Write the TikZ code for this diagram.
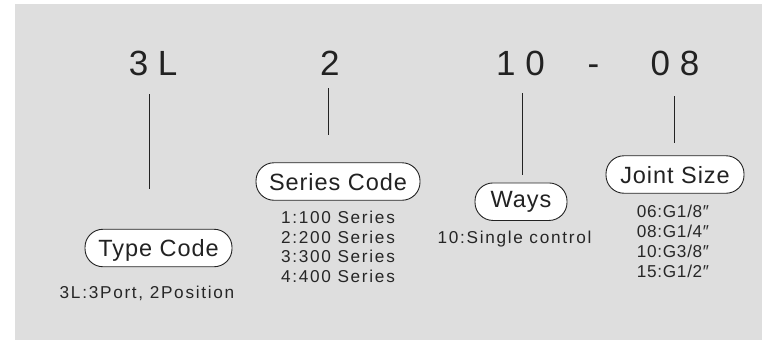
\documentclass[tikz,border=0pt]{standalone}
\usepackage{fontspec}
\setmainfont{Liberation Sans}
\newfontfamily\lblfont[LetterSpace=4]{Liberation Sans}
\newfontfamily\listfont[LetterSpace=10]{Liberation Sans}
\newfontfamily\jointfont[LetterSpace=4]{Liberation Sans}
\definecolor{bggray}{HTML}{DEDEDE}
\definecolor{ink}{HTML}{222222}
\definecolor{listink}{HTML}{262626}
\tikzset{
  digit/.style={anchor=base west, inner sep=0pt, text=ink, font=\fontsize{35}{40}\selectfont},
  pill/.style={draw=ink, line width=0.9pt, fill=white, rounded corners=18pt, inner sep=0pt,
    text height=17pt, text depth=0pt, minimum height=37.5pt, text=ink,
    font=\lblfont\fontsize{23.5}{26}\selectfont},
  item/.style={anchor=base, inner sep=0pt, text=listink, font=\listfont\fontsize{17.2}{19.8}\selectfont},
  jitem/.style={item, font=\jointfont\fontsize{17.2}{19.8}\selectfont},
  stem/.style={draw=ink, line width=0.8pt}
}
\begin{document}
\begin{tikzpicture}[x=1pt,y=-1pt]
\useasboundingbox (0,0) rectangle (762,340);
\fill[white] (0,0) rectangle (762,340);
\fill[bggray] (15,4) rectangle (762,340);
% code digits
\node[digit] (d3L) at (128.6,75) {3 L};
\node[digit] (d2) at (320,75) {2};
\node[digit] (d10) at (496,75) {1 0};
\node[digit] (ddash) at (587.5,75) {-};
\node[digit] (d08) at (650.5,75) {0 8};
% label boxes
\node[pill, minimum width=147pt] (type) at (158.5,248) {Type Code};
\node[pill, minimum width=164pt] (series) at (338,181.5) {Series Code};
\node[pill, minimum width=92pt, text depth=6pt] (ways) at (521,201.7) {Ways};
\node[pill, minimum width=138pt] (joint) at (675,174.5) {Joint Size};
% stems
\coordinate (a1) at (149,94);  \coordinate (b1) at (149,189);
\coordinate (a2) at (328,88);  \coordinate (b2) at (328,135);
\coordinate (a3) at (522,93);  \coordinate (b3) at (522,175);
\coordinate (a4) at (674,96);  \coordinate (b4) at (674,143);
\draw[stem] (a1) -- (b1);
\draw[stem] (a2) -- (b2);
\draw[stem] (a3) -- (b3);
\draw[stem] (a4) -- (b4);
% descriptions
\node[item] (tdesc) at (147,298) {3L:3Port, 2Position};
\node[item] (s1) at (338,223) {1:100 Series};
\node[item] (s2) at (338,243) {2:200 Series};
\node[item] (s3) at (338,262.5) {3:300 Series};
\node[item] (s4) at (338,282.5) {4:400 Series};
\node[item] (wdesc) at (514.5,243) {10:Single control};
\node[jitem] (j1) at (673,217.7) {06:G1/8″};
\node[jitem] (j2) at (673,237.7) {08:G1/4″};
\node[jitem] (j3) at (673,257.7) {10:G3/8″};
\node[jitem] (j4) at (673,277.7) {15:G1/2″};
\end{tikzpicture}
\end{document}
